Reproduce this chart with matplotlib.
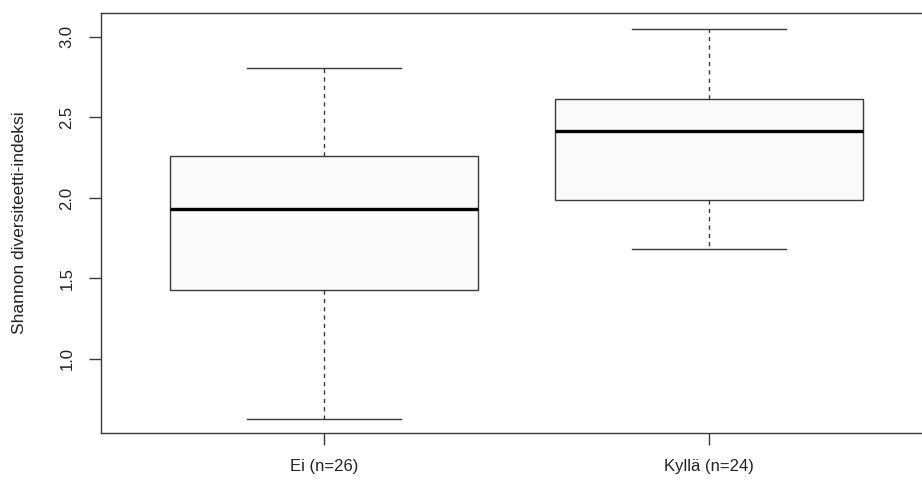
import matplotlib
matplotlib.use("Agg")
import matplotlib.pyplot as plt

plt.rcParams['font.family'] = ['Liberation Sans', 'DejaVu Sans']

groups = ["Ei (n=26)", "Kyllä (n=24)"]
whislo = [0.63, 1.68]
q1 = [1.43, 1.99]
med = [1.93, 2.415]
q3 = [2.26, 2.615]
whishi = [2.81, 3.05]
yticks = [1.0, 1.5, 2.0, 2.5, 3.0]

stats = []
for i in range(len(groups)):
    stats.append({"label": groups[i], "whislo": whislo[i], "q1": q1[i],
                  "med": med[i], "q3": q3[i], "whishi": whishi[i], "fliers": []})

fig = plt.figure(figsize=(9.22, 4.8), dpi=100)
W, H = 922, 480
ax = fig.add_axes([101 / W, (H - 433) / H, (932 - 101) / W, (433 - 13) / H])

edge = "#3a3a3a"
ax.bxp(stats, positions=[1, 2], widths=0.8, patch_artist=True, showfliers=False,
       boxprops=dict(facecolor="#fafafa", edgecolor=edge, linewidth=1.0),
       medianprops=dict(color="black", linewidth=2.4, solid_capstyle="butt"),
       whiskerprops=dict(color=edge, linewidth=1.0, linestyle=(0, (3, 3))),
       capprops=dict(color=edge, linewidth=1.0))

ax.set_xlim(0.42, 2.58)
ax.set_ylim(0.54, 3.149)
ax.set_yticks(yticks)
ax.set_yticklabels([f"{v:.1f}" for v in yticks], rotation=90, va="center")
ax.set_xticks([1, 2])
ax.set_xticklabels(groups)

for s in ax.spines.values():
    s.set_color(edge)
    s.set_linewidth(1.0)
ax.tick_params(axis="both", colors=edge, labelcolor="#222222", labelsize=12,
               length=8.5, width=1.0, direction="out", pad=10.5)
ax.set_ylabel("Shannon diversiteetti-indeksi", fontsize=12.5, color="#222222")
ax.yaxis.set_label_coords((20 - 101) / 831, 0.5)
ax.yaxis.label.set_va("center")

fig.savefig("out.png", dpi=100)
